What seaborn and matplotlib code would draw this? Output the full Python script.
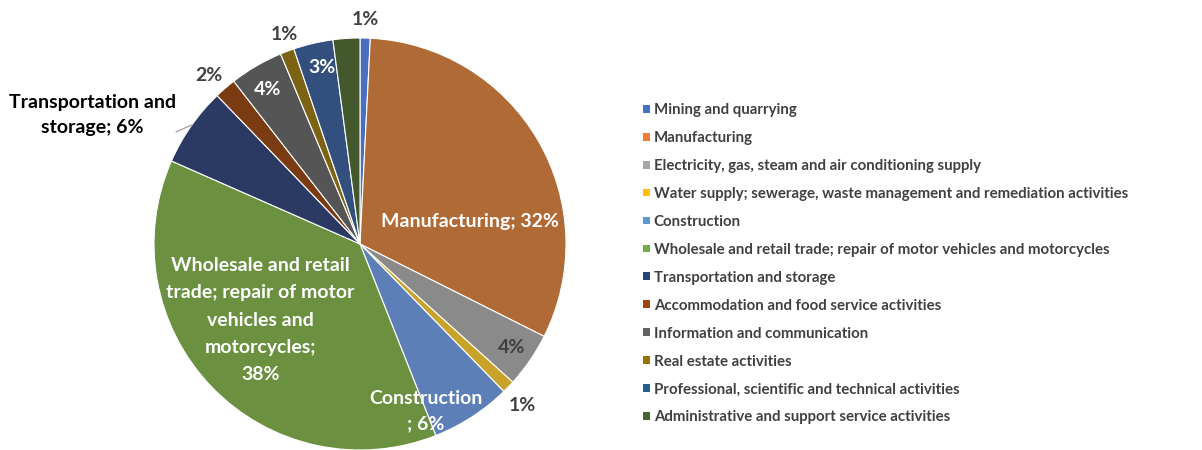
import matplotlib
matplotlib.use("Agg")
import matplotlib.pyplot as plt
from matplotlib.patches import Patch
import numpy as np
import seaborn as sns

# ---- data ----
categories = [
    "Mining and quarrying",
    "Manufacturing",
    "Electricity, gas, steam and air conditioning supply",
    "Water supply; sewerage, waste management and remediation activities",
    "Construction",
    "Wholesale and retail trade; repair of motor vehicles and motorcycles",
    "Transportation and storage",
    "Accommodation and food service activities",
    "Information and communication",
    "Real estate activities",
    "Professional, scientific and technical activities",
    "Administrative and support service activities",
]
shares = [0.8, 31.6, 4.3, 1.0, 6.3, 37.6, 6.2, 1.7, 4.2, 1.1, 3.1, 2.1]
pct_labels = ["1%", "32%", "4%", "1%", "6%", "38%", "6%", "2%", "4%", "1%", "3%", ""]

# ---- styles ----
slice_colors = ["#4a6fc0", "#b06a35", "#8a8a8a", "#c9a22a", "#5b7fb6", "#6a9040",
                "#2b3a63", "#7a3b12", "#555555", "#7b6313", "#334f7e", "#43582c"]
legend_colors = ["#4472C4", "#ED7D31", "#A5A5A5", "#FFC000", "#5B9BD5", "#70AD47",
                 "#264478", "#9E480E", "#636363", "#997300", "#255E91", "#43682B"]

sns.set_theme(style="white")
plt.rcParams["font.family"] = ["Lato", "DejaVu Sans"]

fig = plt.figure(figsize=(12.02, 4.5), dpi=100)
ax = fig.add_axes([0.1281, 0.0, 0.3428, 0.9156])

wedges, _ = ax.pie(shares, colors=slice_colors, startangle=90, counterclock=False,
                   wedgeprops=dict(edgecolor="white", linewidth=0.8))
ax.set_xlim(-1, 1)
ax.set_ylim(-1, 1)
ax.set_aspect("equal")
ax.axis("off")

# label text, colour, radius factor, angle shift (deg) per slice
label_text = [
    pct_labels[0],
    "Manufacturing; " + pct_labels[1],
    pct_labels[2],
    pct_labels[3],
    "Construction\n; " + pct_labels[4],
    "Wholesale and retail\ntrade; repair of motor\nvehicles and\nmotorcycles;\n" + pct_labels[5],
    "Transportation and\nstorage; " + pct_labels[6],
    pct_labels[7], pct_labels[8], pct_labels[9], pct_labels[10], pct_labels[11],
]
label_color = ["#404040", "white", "#404040", "#404040", "white", "white",
               "black", "#404040", "white", "#404040", "white", "white"]
label_r = [1.09, 0.545, 0.89, 1.11, 0.87, 0.609, 1.443, 1.10, 0.873, 1.08, 0.874, 0.0]
label_shift = [0.1, -18.9, 0, -0.9, -11.5, -6.6, 9.2, 1.1, 0.8, -0.7, -1.1, 0]
label_ls = [1.6, 1.6, 1.6, 1.6, 1.6, 1.72, 1.6, 1.6, 1.6, 1.6, 1.6, 1.6]

for i, w in enumerate(wedges):
    if not label_text[i]:
        continue
    mid = np.deg2rad((w.theta1 + w.theta2) / 2 + label_shift[i])
    x, y = label_r[i] * np.cos(mid), label_r[i] * np.sin(mid)
    ax.text(x, y, label_text[i], ha="center", va="center", color=label_color[i],
            fontsize=14, fontweight="bold", linespacing=label_ls[i], clip_on=False)

# leader line for Transportation label
tw = wedges[6]
tm = np.deg2rad((tw.theta1 + tw.theta2) / 2 - 0.4)
ex, ey = np.cos(tm), np.sin(tm)
ax.plot([ex, ex - 0.077], [ey, ey - 0.034], color="#a0a0a0", lw=0.9, clip_on=False)

handles = [Patch(facecolor=c, edgecolor="none") for c in legend_colors]
fig.legend(handles, categories, loc="upper left",
           bbox_to_anchor=(0.535, 0.771), bbox_transform=fig.transFigure,
           frameon=False, handlelength=0.43, handleheight=0.43,
           handletextpad=0.28, labelspacing=0.93, borderpad=0, borderaxespad=0,
           labelcolor="#404040", prop=dict(weight="bold", size=10.8))

fig.savefig("out.png", dpi=100)
